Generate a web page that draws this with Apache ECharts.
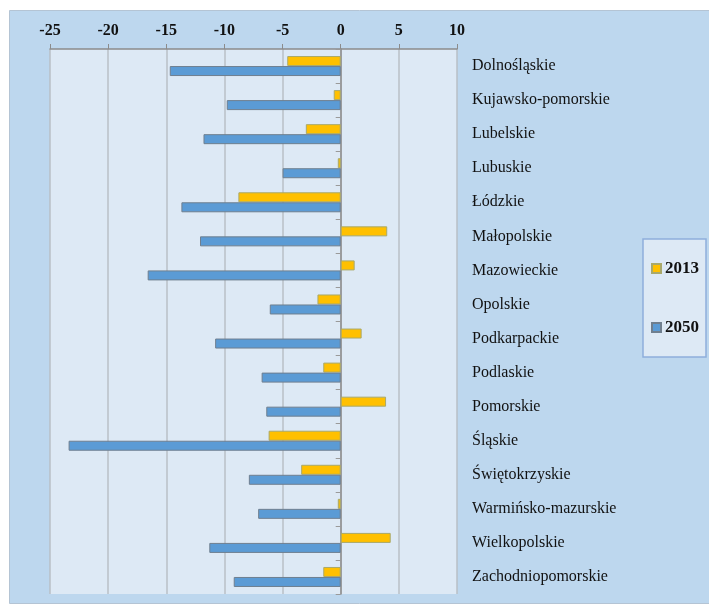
<!DOCTYPE html>
<html>
<head>
<meta charset="utf-8">
<script src="https://cdn.jsdelivr.net/npm/echarts@6/dist/echarts.min.js"></script>
<style>
  html, body { margin: 0; padding: 0; background: #fff; }
  #chart { width: 709px; height: 605px; }
</style>
</head>
<body>
<div id="chart"></div>
<script>
// województwa
var regions = ['Dolnośląskie', 'Kujawsko-pomorskie', 'Lubelskie', 'Lubuskie', 'Łódzkie', 'Małopolskie',
  'Mazowieckie', 'Opolskie', 'Podkarpackie', 'Podlaskie', 'Pomorskie', 'Śląskie',
  'Świętokrzyskie', 'Warmińsko-mazurskie', 'Wielkopolskie', 'Zachodniopomorskie'];
var values2013 = [-4.6, -0.6, -3.0, -0.25, -8.8, 4.0, 1.2, -2.0, 1.8, -1.5, 3.9, -6.2, -3.4, -0.25, 4.3, -1.5];
var values2050 = [-14.7, -9.8, -11.8, -5.0, -13.7, -12.1, -16.6, -6.1, -10.8, -6.8, -6.4, -23.4, -7.9, -7.1, -11.3, -9.2];
var xTicks = [-25, -20, -15, -10, -5, 0, 5, 10];

var chart = echarts.init(document.getElementById('chart'));

var serif = '"Liberation Serif", "DejaVu Serif", serif';

var option = {
  backgroundColor: '#fff',
  animation: false,
  graphic: [
    { // tło wykresu
      type: 'rect',
      z: -10,
      shape: { x: 9.5, y: 10.5, width: 700, height: 593 },
      style: { fill: '#bdd7ee', stroke: '#b4c4d4', lineWidth: 1 }
    }
  ],
  legend: {
    orient: 'vertical',
    left: 643,
    top: 239,
    padding: [21, 7, 21, 8],
    itemGap: 42,
    itemWidth: 9,
    itemHeight: 9,
    icon: 'rect',
    backgroundColor: '#dde9f5',
    borderColor: '#8eafdc',
    borderWidth: 1.5,
    textStyle: { fontFamily: serif, fontWeight: 'bold', fontSize: 17, color: '#111', padding: [0, 0, 0, -1] },
    data: ['2013', '2050']
  },
  grid: {
    left: 50,
    right: 252,
    top: 49,
    bottom: 11,
    show: true,
    backgroundColor: '#dde9f5',
    borderWidth: 0
  },
  xAxis: {
    type: 'value',
    position: 'top',
    min: -25,
    max: 10,
    interval: 5,
    axisLine: { show: true, lineStyle: { color: '#8c8c8c', width: 1.5 } },
    axisTick: { show: true, length: 5, lineStyle: { color: '#8c8c8c' } },
    axisLabel: {
      fontFamily: serif, fontWeight: 'bold', fontSize: 16, color: '#111', margin: 10,
      formatter: function (v) { return xTicks.indexOf(v) >= 0 ? String(v) : ''; }
    },
    splitLine: { show: true, lineStyle: { color: '#b9bfc6', width: 1.5 } }
  },
  yAxis: [
    { // oś przy zerze
      type: 'category',
      data: regions,
      inverse: true,
      position: 'left',
      axisLine: { show: true, onZero: true, lineStyle: { color: '#8c8c8c', width: 1.5 } },
      axisTick: { show: true, length: 5, lineStyle: { color: '#9a9a9a' } },
      axisLabel: { show: false },
      splitLine: { show: false }
    },
    { // etykiety po prawej
      type: 'category',
      data: regions,
      inverse: true,
      position: 'right',
      axisLine: { show: false },
      axisTick: { show: false },
      axisLabel: { fontFamily: serif, fontSize: 16, color: '#111', margin: 15, align: 'left', padding: [5, 0, 0, 0] },
      splitLine: { show: false }
    }
  ],
  series: [
    {
      name: '2013',
      type: 'bar',
      yAxisIndex: 0,
      data: values2013,
      barWidth: 10,
      barGap: '0%',
      itemStyle: { color: '#ffc000', borderColor: '#a9a96a', borderWidth: 1 }
    },
    {
      name: '2050',
      type: 'bar',
      yAxisIndex: 0,
      data: values2050,
      barWidth: 10,
      barGap: '0%',
      itemStyle: { color: '#5b9bd5', borderColor: '#6f7f8f', borderWidth: 1 }
    }
  ]
};

chart.setOption(option);
</script>
</body>
</html>
